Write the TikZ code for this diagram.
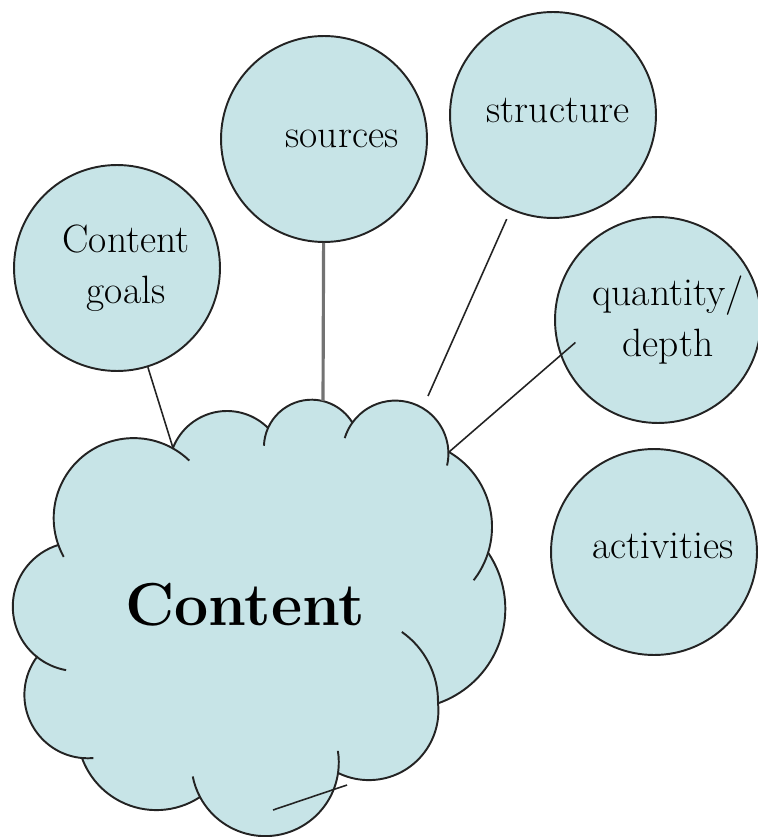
\documentclass[tikz,border=0pt]{standalone}
\usepackage{fontspec}
\usetikzlibrary{calc}
\definecolor{bubble}{RGB}{199,228,231}
\definecolor{rim}{RGB}{35,35,35}
\definecolor{stem}{RGB}{115,115,115}

\begin{document}
\begin{tikzpicture}[
  x=0.02cm, y=-0.02cm,
  topic/.style={circle,draw=rim,fill=bubble,line width=1.1pt,minimum size=4.12cm,inner sep=0pt},
  tag/.style={font=\fontsize{22.5}{29}\selectfont,align=center,inner sep=0pt},
  outline/.style={draw=rim,line width=1.1pt,line join=round},
  link/.style={draw=rim,line width=0.9pt},
  stemlink/.style={draw=stem,line width=1.8pt}
]
  \useasboundingbox (0,0) rectangle (757,837);

  % satellite topics
  \node[topic,label={[tag,xshift=0.18cm]center:Content\\goals}] (goals) at (117,268) {};
  \node[topic,label={[tag,xshift=0.36cm]center:sources}] (sources) at (324,139) {};
  \node[topic,label={[tag,xshift=0.1cm,yshift=0.09cm]center:structure}] (structure) at (553,115) {};
  \node[topic,label={[tag,xshift=0.2cm]center:quantity/\\depth}] (quantity) at (658,320) {};
  \node[topic,label={[tag,xshift=0.18cm,yshift=0.12cm]center:activities}] (activities) at (654,552) {};

  % centres of the cloud's bumps
  \coordinate (b1) at (227,469);
  \coordinate (b2) at (311.6,447.4);
  \coordinate (b3) at (395.4,453.6);
  \coordinate (b4) at (405.3,526.9);
  \coordinate (b5) at (405.3,608.8);
  \coordinate (b6) at (368.8,710.5);
  \coordinate (b7) at (265.1,762.4);
  \coordinate (b8) at (156.4,730.9);
  \coordinate (b9) at (87.9,694.8);
  \coordinate (b10) at (77.3,606.6);
  \coordinate (b11) at (133.7,518.1);
  \coordinate (b12) at (353.2,701.4);

  % the cloud
  \path[outline,fill=bubble]
    ($(b1)+(201:58)$) arc[start angle=201,end angle=315,radius=58]
    -- ($(b2)+(204:47.7)$) arc[start angle=204,end angle=328,radius=47.7]
    -- ($(b3)+(216:53)$) arc[start angle=216,end angle=358,radius=53]
    -- ($(b4)+(300:86.7)$) arc[start angle=300,end angle=377.5,radius=86.7]
    -- ($(b5)+(-34:100)$) arc[start angle=-34,end angle=71,radius=100]
    -- ($(b6)+(-6:69.6)$) arc[start angle=-6,end angle=116,radius=69.6]
    -- ($(b7)+(8:73.7)$) arc[start angle=8,end angle=152,radius=73.7]
    -- ($(b8)+(57:79.2)$) arc[start angle=57,end angle=160,radius=79.2]
    -- ($(b9)+(95:63.5)$) arc[start angle=95,end angle=217,radius=63.5]
    -- ($(b10)+(129:64.5)$) arc[start angle=129,end angle=253,radius=64.5]
    -- ($(b11)+(160:80)$) arc[start angle=160,end angle=299,radius=80]
    -- cycle;

  % inner hooks
  \foreach \c/\s/\e/\r in {b11/299/314/80, b11/160/151/80, b2/204/182/47.7, b3/216/197/53,
      b3/358/373/53, b4/377.5/398/86.7, b12/1/-55/84.8, b7/8/-9/73.7, b7/152/169/73.7,
      b9/95/85/63.5, b10/129/100/64.5}
    \draw[outline] ($(\c)+(\s:\r)$) arc[start angle=\s,end angle=\e,radius=\r];

  \coordinate (cK) at (173,448);
  \coordinate (cH) at (449,452);
  \coordinate (cS) at (323,401);
  \coordinate (cT) at (428,396);
  \draw[link] (273,810) -- (347,785);

  \node[font=\fontsize{34.5}{40}\selectfont\bfseries] (content) at (245,605) {Content};

  % connectors
  \draw[link] (goals) -- (cK);
  \draw[stemlink] (sources) -- (cS);
  \draw[link,shorten <=0.2cm] (structure) -- (cT);
  \draw[link,shorten <=-0.4cm] (quantity.200) -- (cH);
\end{tikzpicture}
\end{document}
